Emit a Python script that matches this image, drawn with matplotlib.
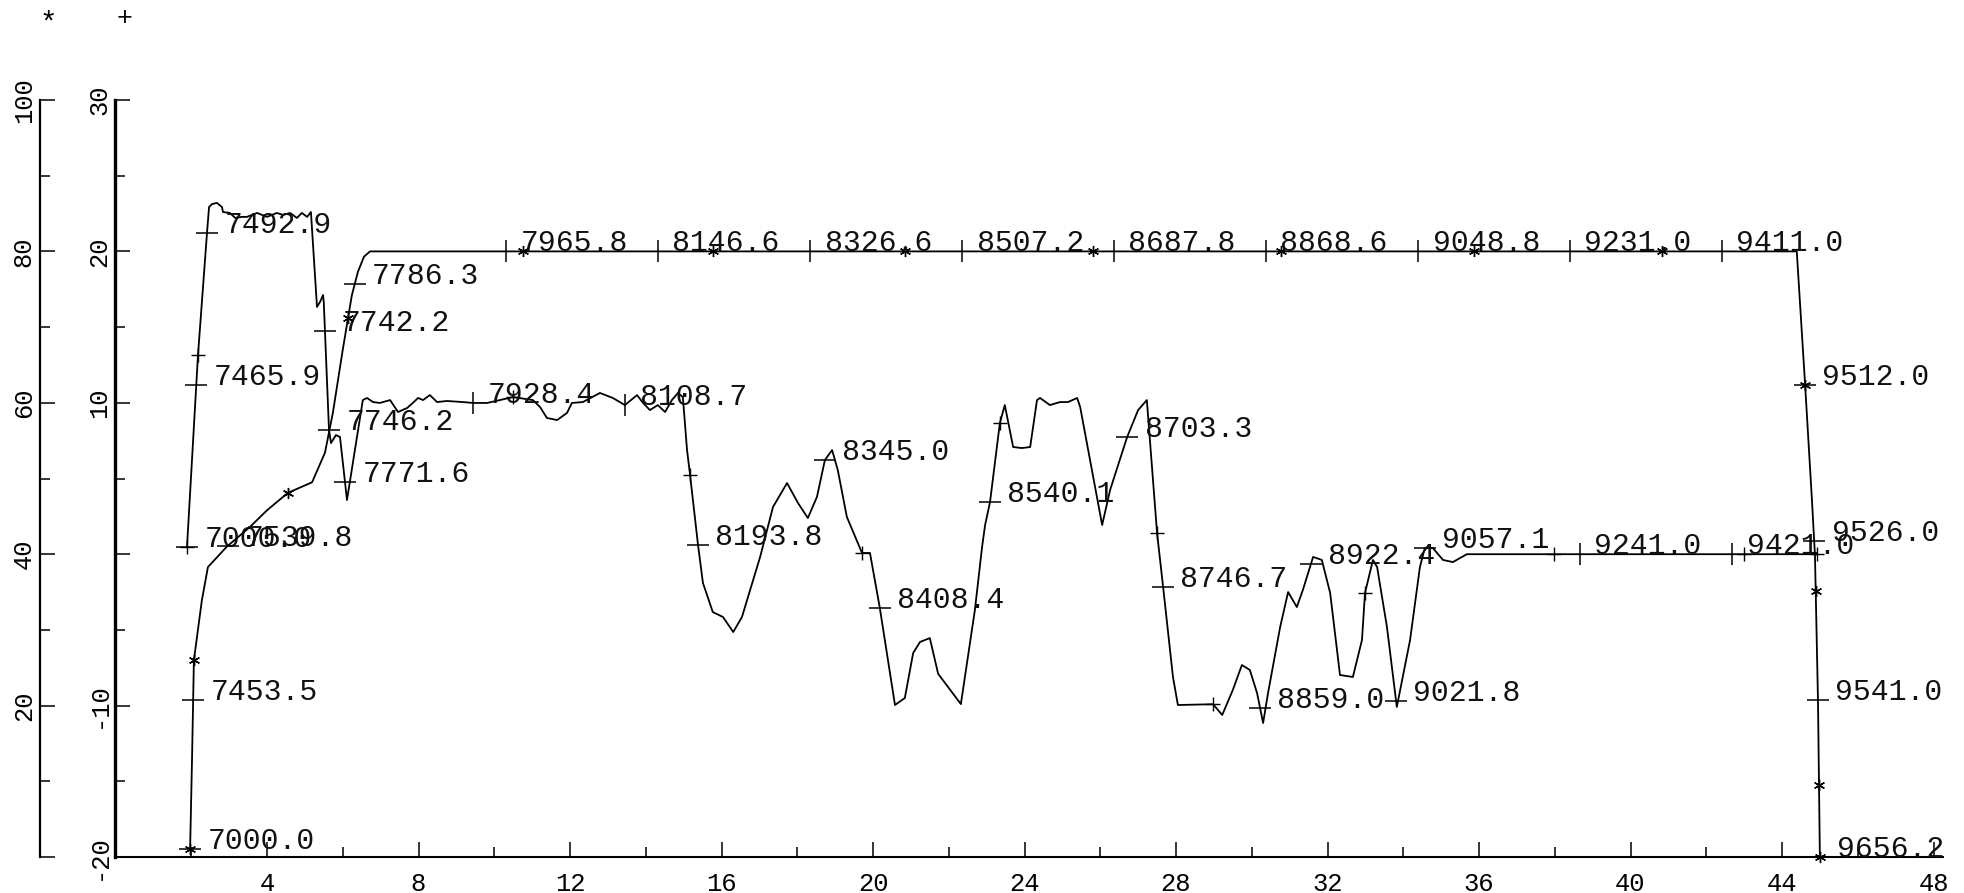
import numpy as np
import matplotlib
matplotlib.use("Agg")
import matplotlib.pyplot as plt
from matplotlib.ticker import MultipleLocator

FONT = "Liberation Mono"
plt.rcParams["font.family"] = [FONT, "DejaVu Sans Mono"]

# ---- series "*" (0..100 scale) ----
star_x = [1.97, 2.02, 2.07, 2.28, 2.44, 2.94, 3.55, 4.0, 4.55, 5.19, 5.53, 5.74,
          6.0, 6.24, 6.40, 6.56, 6.72, 44.39, 44.61, 44.79, 44.87, 44.95, 45.0]
star_y = [1.1, 12.8, 26.0, 33.9, 38.3, 41.0, 43.6, 45.8, 48.1, 49.5, 53.4, 58.7,
          67.0, 74.2, 77.3, 79.3, 80.0, 80.0, 62.4, 47.2, 39.9, 20.7, 0.0]
star_marker_x = [1.97, 2.07, 4.55, 6.14, 10.76, 15.78, 20.84, 25.81, 30.77,
                 35.87, 40.83, 44.61, 44.89, 44.977, 45.0]
star_depth_x = [1.97, 2.05, 2.97, 6.32, 10.31, 14.32, 18.34, 22.35, 26.36,
                30.37, 34.39, 38.40, 42.41, 44.61, 44.85, 44.95, 45.0]
star_depth_labels = ["7000.0", "7453.5", "7539.8", "7786.3", "7965.8", "8146.6",
                     "8326.6", "8507.2", "8687.8", "8868.6", "9048.8", "9231.0",
                     "9411.0", "9512.0", "9526.0", "9541.0", "9656.2"]

# ---- series "+" (-20..30 scale) ----
plus_x = [1.888, 2.178, 2.416, 2.47, 2.55, 2.68, 2.81, 2.84, 3.02, 3.16, 3.34, 3.47,
          3.74, 4.0, 4.26, 4.42, 4.61, 4.79, 4.92, 5.06, 5.16, 5.32, 5.40, 5.48,
          5.50, 5.637, 5.69, 5.82, 5.927, 6.112, 6.53, 6.64, 6.80, 6.98, 7.25, 7.46,
          7.70, 7.85, 7.99, 8.12, 8.30, 8.49, 8.75, 9.17, 9.44, 9.81, 10.15, 10.49,
          11.02, 11.21, 11.39, 11.66, 11.92, 12.05, 12.34, 12.79, 13.13, 13.45,
          13.77, 13.93, 14.11, 14.32, 14.51, 14.69, 14.85, 14.98, 15.09, 15.17,
          15.38, 15.51, 15.77, 16.04, 16.31, 16.54, 17.02, 17.36, 17.73, 18.02,
          18.28, 18.52, 18.73, 18.92, 19.07, 19.31, 19.71, 19.92, 20.18, 20.58,
          20.84, 21.06, 21.24, 21.50, 21.72, 22.32, 22.69, 22.88, 22.96, 23.09,
          23.35, 23.48, 23.70, 23.93, 24.15, 24.33, 24.41, 24.67, 24.94, 25.15,
          25.39, 25.47, 26.05, 26.26, 26.71, 27.0, 27.23, 27.50, 27.66, 27.92,
          28.05, 28.98, 29.22, 29.50, 29.74, 29.95, 30.14, 30.30, 30.43, 30.75,
          30.96, 31.19, 31.35, 31.62, 31.85, 32.07, 32.25, 32.33, 32.67, 32.91,
          32.99, 33.2, 33.31, 33.57, 33.83, 34.18, 34.44, 34.57, 34.78, 35.05,
          35.31, 35.68, 44.92]
plus_y = [0.48, 13.16, 21.22, 22.93, 23.13, 23.2, 22.93, 22.6, 22.54, 22.21, 22.28,
          22.28, 22.54, 22.28, 22.54, 22.41, 22.54, 22.21, 22.54, 22.28, 22.6, 16.33,
          16.66, 17.12, 16.59, 8.2, 7.34, 7.87, 7.74, 3.58, 10.18, 10.32, 10.05,
          9.99, 10.18, 9.39, 9.66, 9.99, 10.32, 10.18, 10.51, 10.05, 10.12, 10.05,
          9.99, 9.99, 10.18, 10.38, 10.18, 9.72, 9.0, 8.86, 9.33, 9.99, 10.05, 10.65,
          10.32, 9.85, 10.51, 9.99, 9.52, 9.85, 9.39, 10.18, 10.65, 10.38, 6.88,
          5.23, 0.61, -1.9, -3.82, -4.15, -5.14, -4.15, -0.18, 3.12, 4.70, 3.38,
          2.39, 3.78, 6.22, 6.88, 5.56, 2.46, 0.08, 0.08, -3.55, -9.96, -9.50,
          -6.53, -5.80, -5.54, -7.9, -9.9, -3.69, 0.48, 1.93, 3.45, 8.67, 9.85,
          7.08, 7.01, 7.08, 10.18, 10.32, 9.85, 10.05, 10.05, 10.32, 9.72, 1.93,
          4.24, 7.74, 9.52, 10.18, 1.40, -2.17, -8.11, -9.96, -9.91, -10.62, -8.97,
          -7.32, -7.65, -9.17, -11.15, -9.17, -4.81, -2.50, -3.49, -2.36, -0.18,
          -0.38, -2.56, -6.33, -7.98, -8.11, -5.67, -2.56, -0.38, -0.85, -4.81,
          -10.09, -5.67, -0.85, 0.41, 0.41, -0.38, -0.52, 0.0, 0.0]
plus_marker_x = [1.888, 2.178, 10.49, 15.17, 19.71, 23.35, 27.50, 28.98, 32.99,
                 37.97, 43.0, 44.92]
plus_depth_x = [1.888, 2.133, 2.416, 5.53, 5.637, 6.059, 9.44, 13.45, 15.38, 18.73,
                20.18, 23.09, 26.71, 27.66, 30.22, 31.56, 33.81, 34.57, 38.66, 42.68]
plus_depth_labels = ["7000.0", "7465.9", "7492.9", "7742.2", "7746.2", "7771.6",
                     "7928.4", "8108.7", "8193.8", "8345.0", "8408.4", "8540.1",
                     "8703.3", "8746.7", "8859.0", "8922.4", "9021.8", "9057.1",
                     "9241.0", "9421.0"]

# ---- axis ticks ----
x_major = list(range(4, 49, 4))
inner_ticks = [-20, -10, 0, 10, 20, 30]
inner_labels = ["-20", "-10", "", "10", "20", "30"]
outer_ticks = [0, 20, 40, 60, 80, 100]
outer_labels = ["", "20", "40", "60", "80", "100"]

TICK_FS = 18.4
LABEL_FS = 21.5

W_PX, H_PX = 1965, 893
fig = plt.figure(figsize=(W_PX / 100, H_PX / 100), dpi=100)
fig.patch.set_facecolor("white")

x0_px, bottom_px, top_px = 115.5, 857, 100
px_per_unit = 37.875
xmax = 48.25
left = x0_px / W_PX
bottom = (H_PX - bottom_px) / H_PX
height = (bottom_px - top_px) / H_PX
width = xmax * px_per_unit / W_PX

ax = fig.add_axes([left, bottom, width, height])
ax.set_xlim(0, xmax)
ax.set_ylim(-20, 30)
ax.patch.set_visible(False)
for s in ("top", "right"):
    ax.spines[s].set_visible(False)
ax.spines["left"].set_linewidth(2.4)
ax.spines["bottom"].set_linewidth(1.5)
ax.set_xticks(x_major)
ax.xaxis.set_minor_locator(MultipleLocator(2))
ax.set_yticks(inner_ticks, inner_labels)
ax.yaxis.set_minor_locator(MultipleLocator(5))
ax.tick_params(axis="both", which="both", direction="in", width=1.1, color="k")
ax.tick_params(axis="both", which="major", length=11)
ax.tick_params(axis="both", which="minor", length=7.5)
ax.tick_params(axis="x", which="major", labelsize=TICK_FS, pad=11)
ax.tick_params(axis="y", which="major", labelsize=TICK_FS, pad=3, labelrotation=90)
for lab in ax.get_yticklabels():
    lab.set_verticalalignment("center")

axA = ax.twinx()
axA.set_ylim(0, 100)
for s in axA.spines.values():
    s.set_visible(False)
axA.set_yticks([])

# outer scale drawn as its own spine
axO = fig.add_axes([40 / W_PX, bottom, 0.0005, height])
axO.set_ylim(0, 100)
axO.patch.set_visible(False)
for s in ("top", "right", "bottom"):
    axO.spines[s].set_visible(False)
axO.spines["left"].set_linewidth(1.6)
axO.set_xticks([])
axO.set_yticks(outer_ticks, outer_labels)
axO.yaxis.set_minor_locator(MultipleLocator(10))
axO.tick_params(axis="y", which="both", direction="in", width=1.1, color="k")
axO.tick_params(axis="y", which="major", length=11, labelsize=TICK_FS, pad=3,
                labelrotation=90)
axO.tick_params(axis="y", which="minor", length=7.5)
for lab in axO.get_yticklabels():
    lab.set_verticalalignment("center")

fig.text(48 / W_PX, 1 - 24 / H_PX, "*", fontsize=21, ha="center", va="center")
fig.text(124 / W_PX, 1 - 18 / H_PX, "+", fontsize=19, ha="center", va="center")


def tick_shape(axis, xs, ys, px, py):
    pts = axis.transData.transform(np.column_stack([xs, ys]))
    p = axis.transData.transform((px, py))
    best, bestd = 0, np.inf
    for i in range(len(pts) - 1):
        a, b = pts[i], pts[i + 1]
        ab = b - a
        l2 = ab @ ab
        t = 0.0 if l2 == 0 else np.clip((p - a) @ ab / l2, 0, 1)
        d = np.hypot(*(a + t * ab - p))
        if d < bestd - 1e-9:
            best, bestd = i, d
    dx, dy = pts[best + 1] - pts[best]
    return "_" if abs(dy) > 0.7 * abs(dx) else "|"


def draw_series(axis, xs, ys, marker_x, marker, msize, depth_x, depth_labels):
    axis.plot(xs, ys, color="k", lw=1.3, solid_joinstyle="round", clip_on=False)
    my = np.interp(marker_x, xs, ys)
    axis.plot(marker_x, my, ls="none", marker=marker, ms=msize, mew=1.0,
              color="k", clip_on=False)
    dy_vals = np.interp(depth_x, xs, ys)
    for dx_, dy_, lab in zip(depth_x, dy_vals, depth_labels):
        shape = tick_shape(axis, xs, ys, dx_, dy_)
        axis.plot([dx_], [dy_], ls="none", marker=shape, ms=16, mew=1.1,
                  color="k", clip_on=False)
        off = 12.5 if shape == "_" else 10.5
        axis.annotate(lab, (dx_, dy_), xytext=(off, 0), textcoords="offset points",
                      ha="left", va="baseline", fontsize=LABEL_FS, color="#111111",
                      annotation_clip=False)


draw_series(axA, star_x, star_y, star_marker_x, (6, 2, 0), 8,
            star_depth_x, star_depth_labels)
draw_series(ax, plus_x, plus_y, plus_marker_x, "+", 10,
            plus_depth_x, plus_depth_labels)

fig.savefig("out.png", dpi=100, facecolor="white")
